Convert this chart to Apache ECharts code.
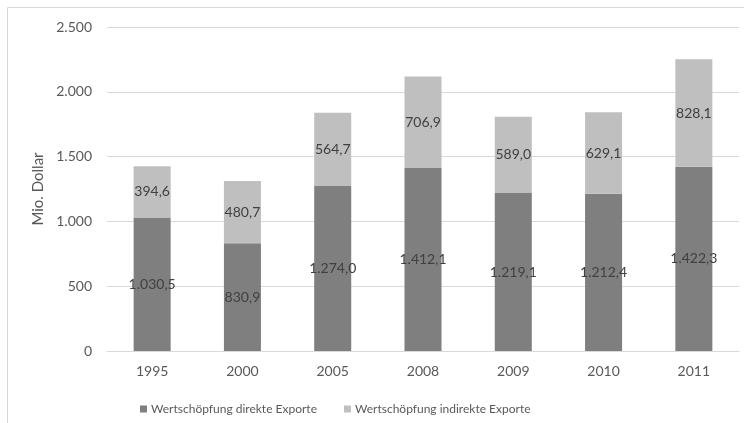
<!DOCTYPE html>
<html>
<head>
<meta charset="utf-8">
<script src="https://cdn.jsdelivr.net/npm/echarts@6/dist/echarts.min.js"></script>
<style>
  html, body { margin: 0; padding: 0; background: #fff; }
  #chart { width: 744px; height: 423px; }
</style>
</head>
<body>
<div id="chart"></div>
<script>
// Years on the category axis
const years = ['1995', '2000', '2005', '2008', '2009', '2010', '2011'];
// Value added by direct exports (Mio. Dollar)
const direkteExporte = [1030.5, 830.9, 1274.0, 1412.1, 1219.1, 1212.4, 1422.3];
// Value added by indirect exports (Mio. Dollar)
const indirekteExporte = [394.6, 480.7, 564.7, 706.9, 589.0, 629.1, 828.1];
const seriesNames = ['Wertschöpfung direkte Exporte', 'Wertschöpfung indirekte Exporte'];
const axisTitle = 'Mio. Dollar';

// German number format: thousands with ".", decimals with ","
function deNumber(v, decimals) {
  const parts = v.toFixed(decimals).split('.');
  const intPart = parts[0].replace(/\B(?=(\d{3})+(?!\d))/g, '.');
  return parts.length > 1 ? intPart + ',' + parts[1] : intPart;
}

const FONT = 'Lato, "Open Sans", sans-serif';
const chart = echarts.init(document.getElementById('chart'), null, { renderer: 'canvas' });

const labelStyle = {
  show: true,
  position: 'inside',
  color: '#404040',
  fontFamily: FONT,
  fontSize: 14,
  formatter: p => deNumber(p.value, 1)
};

chart.setOption({
  animation: false,
  backgroundColor: '#ffffff',
  textStyle: { fontFamily: FONT },
  graphic: [
    { type: 'line', shape: { x1: 7.5, y1: 7.5, x2: 744, y2: 7.5 }, style: { stroke: '#d9d9d9', lineWidth: 1 } },
    { type: 'line', shape: { x1: 7.5, y1: 7.5, x2: 7.5, y2: 423 }, style: { stroke: '#d9d9d9', lineWidth: 1 } }
  ],
  grid: { left: 107, right: 5, top: 27, bottom: 72 },
  legend: {
    left: 135,
    top: 398,
    itemWidth: 7,
    itemHeight: 7,
    itemGap: 27,
    icon: 'rect',
    textStyle: { color: '#595959', fontSize: 12, fontFamily: FONT, padding: [0, 0, 0, -1] },
    data: seriesNames
  },
  xAxis: {
    type: 'category',
    data: years,
    axisLine: { lineStyle: { color: '#d9d9d9' } },
    axisTick: { show: false },
    axisLabel: { color: '#595959', fontSize: 14, fontFamily: FONT, margin: 13 }
  },
  yAxis: {
    type: 'value',
    min: 0,
    max: 2500,
    interval: 500,
    name: axisTitle,
    nameLocation: 'middle',
    nameRotate: 90,
    nameGap: 57,
    nameTextStyle: { color: '#595959', fontSize: 15, fontFamily: FONT },
    axisLine: { show: false },
    axisTick: { show: false },
    splitLine: { lineStyle: { color: '#d9d9d9', width: 1 } },
    axisLabel: {
      color: '#595959', fontSize: 14, fontFamily: FONT, margin: 15,
      formatter: v => deNumber(v, 0)
    }
  },
  series: [
    {
      name: seriesNames[0],
      type: 'bar',
      stack: 'total',
      data: direkteExporte,
      barWidth: '41%',
      itemStyle: { color: '#7f7f7f' },
      label: labelStyle
    },
    {
      name: seriesNames[1],
      type: 'bar',
      stack: 'total',
      data: indirekteExporte,
      barWidth: '41%',
      itemStyle: { color: '#bfbfbf' },
      label: labelStyle
    }
  ]
});
</script>
</body>
</html>
